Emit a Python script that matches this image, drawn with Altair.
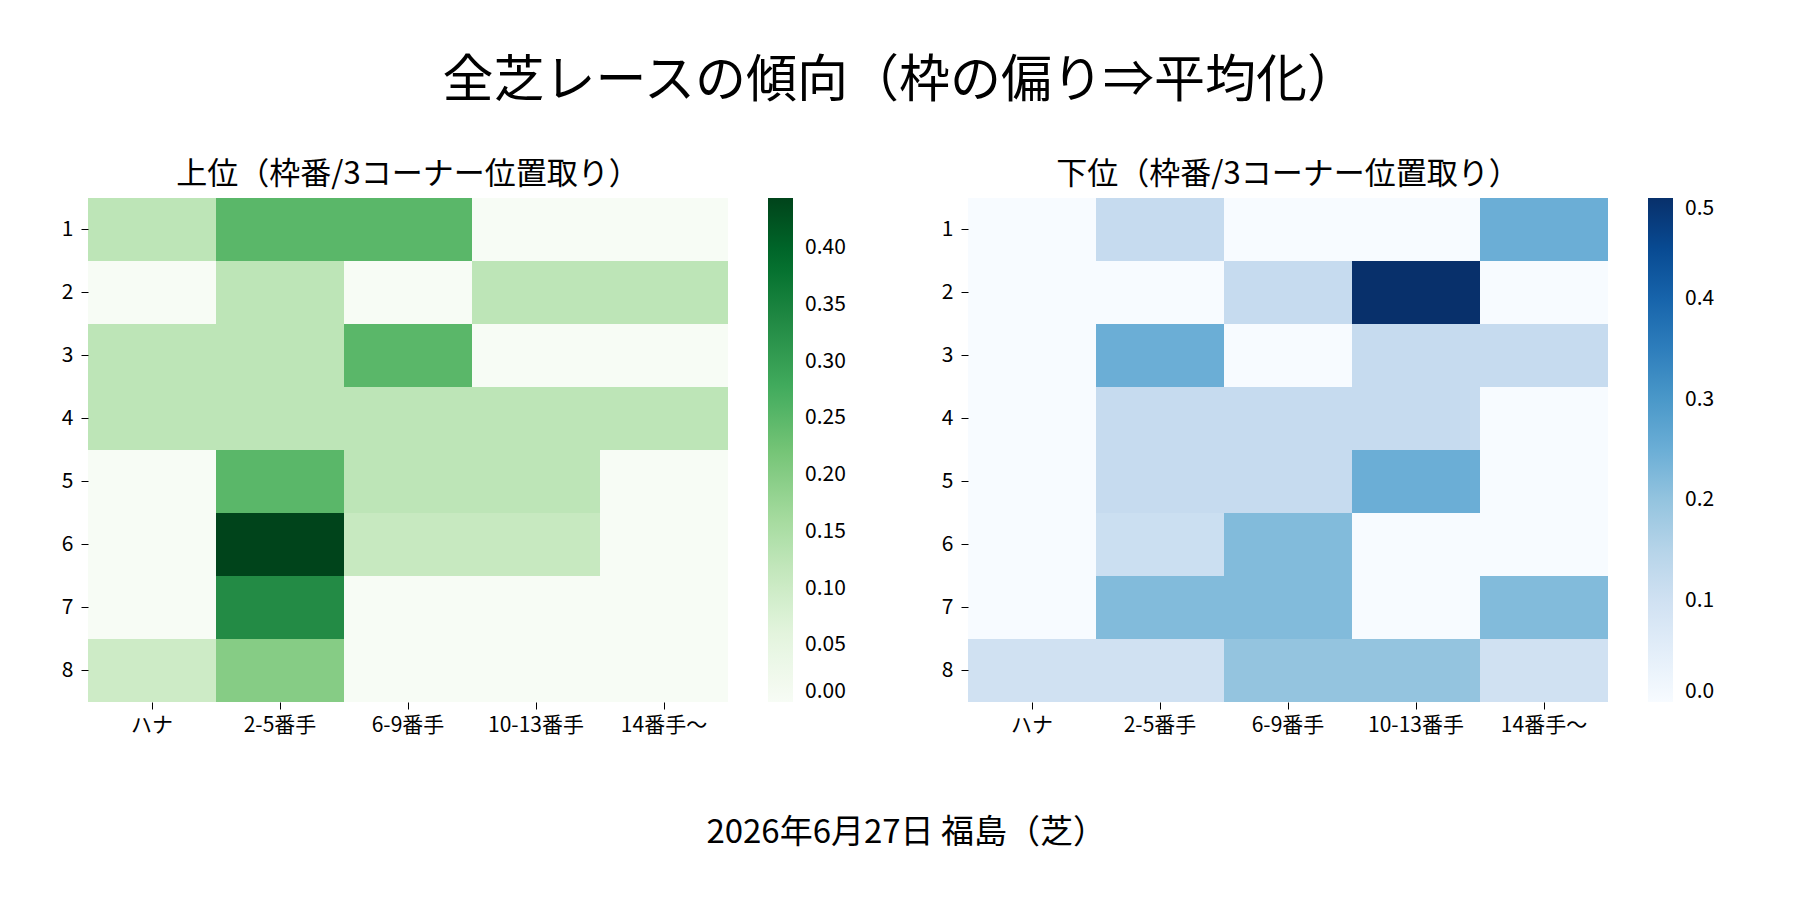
import altair as alt
import pandas as pd

FONT = "Noto Sans CJK JP"

frames = ["1", "2", "3", "4", "5", "6", "7", "8"]
positions = ["ハナ", "2-5番手", "6-9番手", "10-13番手", "14番手〜"]

# 上位 (top finishers) share per frame row, columns follow `positions`
upper_rows = [
    [0.125, 0.25, 0.25, 0.0, 0.0],
    [0.0, 0.125, 0.0, 0.125, 0.125],
    [0.125, 0.125, 0.25, 0.0, 0.0],
    [0.125, 0.125, 0.125, 0.125, 0.125],
    [0.0, 0.25, 0.125, 0.125, 0.0],
    [0.0, 0.444, 0.111, 0.111, 0.0],
    [0.0, 0.333, 0.0, 0.0, 0.0],
    [0.1, 0.2, 0.0, 0.0, 0.0],
]
# 下位 (bottom finishers)
lower_rows = [
    [0.0, 0.125, 0.0, 0.0, 0.25],
    [0.0, 0.0, 0.125, 0.5, 0.0],
    [0.0, 0.25, 0.0, 0.125, 0.125],
    [0.0, 0.125, 0.125, 0.125, 0.0],
    [0.0, 0.125, 0.125, 0.25, 0.0],
    [0.0, 0.111, 0.222, 0.0, 0.0],
    [0.0, 0.222, 0.222, 0.0, 0.222],
    [0.1, 0.1, 0.2, 0.2, 0.1],
]

upper_max = 0.4444
lower_max = 0.5
upper_ticks = [0.0, 0.05, 0.10, 0.15, 0.20, 0.25, 0.30, 0.35, 0.40]
lower_ticks = [0.0, 0.1, 0.2, 0.3, 0.4, 0.5]

greens9 = ["#f7fcf5", "#e5f5e0", "#c7e9c0", "#a1d99b", "#74c476",
           "#41ab5d", "#238b45", "#006d2c", "#00441b"]
blues9 = ["#f7fbff", "#deebf7", "#c6dbef", "#9ecae1", "#6baed6",
          "#4292c6", "#2171b5", "#08519c", "#08306b"]

main_title = "全芝レースの傾向（枠の偏り⇒平均化）"
upper_title = "上位（枠番/3コーナー位置取り）"
lower_title = "下位（枠番/3コーナー位置取り）"
footer = "2026年6月27日 福島（芝）"


def to_df(rows):
    recs = []
    for f, row in zip(frames, rows):
        for p, v in zip(positions, row):
            recs.append({"frame": f, "pos": p, "value": v})
    return pd.DataFrame(recs)


def panel(rows, vmax, colors, ticks, fmt, title):
    stops = [vmax * i / 8 for i in range(9)]
    return (
        alt.Chart(to_df(rows))
        .mark_rect(strokeWidth=0)
        .encode(
            x=alt.X("pos:N", sort=positions, title=None,
                    axis=alt.Axis(labelAngle=0, domain=False, ticks=True,
                                  tickSize=7, tickColor="#000000",
                                  labelPadding=5, grid=False,
                                  labelFont=FONT, labelFontSize=21,
                                  labelColor="#000000")),
            y=alt.Y("frame:O", sort=frames, title=None,
                    axis=alt.Axis(domain=False, ticks=True, tickSize=7,
                                  tickColor="#000000", labelPadding=8,
                                  grid=False, labelFont=FONT,
                                  labelFontSize=21, labelColor="#000000")),
            color=alt.Color(
                "value:Q",
                scale=alt.Scale(domain=stops, range=colors, interpolate="rgb",
                                clamp=True),
                legend=alt.Legend(
                    title=None, type="gradient", direction="vertical",
                    gradientLength=504, gradientThickness=25, offset=40,
                    values=ticks, format=fmt, labelOffset=12, padding=0,
                    labelOverlap=False, labelFont=FONT, labelFontSize=21,
                    labelColor="#000000", gradientStrokeWidth=0,
                ),
            ),
        )
        .properties(
            width=640, height=504,
            title=alt.TitleParams(title, fontSize=31, font=FONT,
                                  fontWeight="normal", offset=7,
                                  color="#000000", anchor="middle"),
        )
    )


left = panel(upper_rows, upper_max, greens9, upper_ticks, ".2f", upper_title)
right = panel(lower_rows, lower_max, blues9, lower_ticks, ".1f", lower_title)

top = (
    alt.hconcat(left, right, spacing=95)
    .resolve_scale(color="independent")
    .resolve_legend(color="independent")
    .properties(title=alt.TitleParams(main_title, fontSize=51, font=FONT,
                                      fontWeight="normal", offset=51, dx=12,
                                      color="#000000", anchor="middle"))
)

chart = (
    alt.vconcat(top)
    .properties(
        title=alt.TitleParams(footer, orient="bottom", fontSize=33, font=FONT,
                              fontWeight="normal", offset=82, dx=18,
                              color="#000000", anchor="middle"),
        padding={"left": 53, "top": 48, "right": 10, "bottom": 10},
        background="#ffffff",
    )
    .configure_view(stroke=None)
)

chart.save("out.html", embed_options={"renderer": "svg", "actions": False})
